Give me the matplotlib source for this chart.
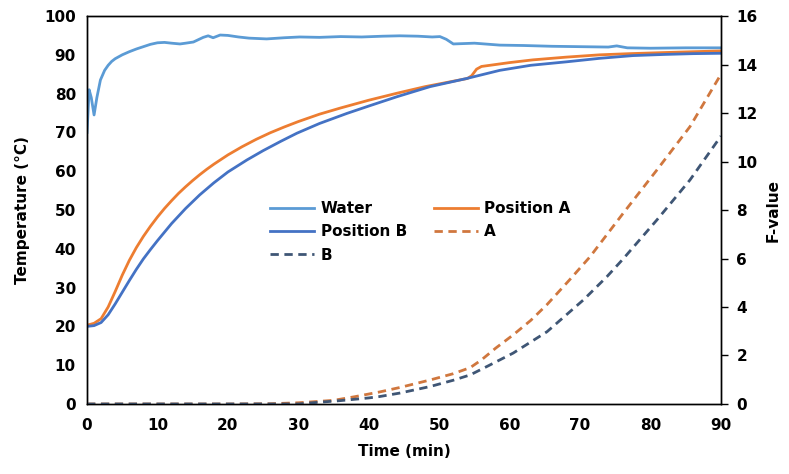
import matplotlib
matplotlib.use("Agg")
import matplotlib.pyplot as plt

# Water bath temperature (°C)
water_t = [0, 0.3, 0.6, 1.0, 1.4, 1.9, 2.5, 3.0, 3.5, 4.0, 5, 6, 7, 8, 9, 10, 11, 12, 13.2, 14, 15.1,
           16.5, 17.2, 17.9, 18.9, 20, 21.5, 23, 25.5, 28, 30.2, 33, 36, 39, 42, 44.4,
           47, 49, 50.1, 51, 52, 53.5, 55, 58.6, 62, 66, 70, 74, 75.2, 76.7, 80, 85, 90]
water_T = [70, 81, 79, 74.5, 79, 83.5, 86, 87.3, 88.3, 89.0, 90.0, 90.8, 91.5, 92.1, 92.7, 93.1, 93.2, 93.0, 92.8, 93.0, 93.3,
           94.5, 94.9, 94.4, 95.1, 95.0, 94.6, 94.3, 94.1, 94.4, 94.6, 94.5, 94.7, 94.6, 94.8, 94.9,
           94.8, 94.6, 94.7, 94.0, 92.8, 92.9, 93.0, 92.5, 92.4, 92.2, 92.1, 92.0, 92.3, 91.8, 91.7, 91.8, 91.8]

# Product core temperature at position A (°C)
posA_t = [0, 1, 2, 3, 4, 5, 6, 7, 8, 9, 10, 11, 12, 13, 14, 15, 16, 17, 18, 19, 20, 22, 24, 26, 28, 30,
          33, 36, 40, 44, 48, 52, 54, 54.6, 55.3, 56, 58, 60, 63.3, 68, 72.8, 77, 82.3, 86, 90]
posA_T = [20.3, 20.8, 22, 25, 29, 33.2, 37, 40.3, 43.2, 45.8, 48.2, 50.4, 52.4, 54.3, 56, 57.6, 59.1, 60.5, 61.8, 63, 64.2,
          66.3, 68.2, 69.9, 71.4, 72.8, 74.7, 76.3, 78.3, 80.1, 81.8, 83.2, 83.9, 84.6, 86.3, 87.0, 87.5, 88.0, 88.7,
          89.4, 90.0, 90.3, 90.6, 90.8, 91.0]

# Product core temperature at position B (°C)
posB_t = [0, 1, 2, 3, 4, 5, 6, 7, 8, 9, 10, 12, 14, 16, 18, 20, 22.7, 25, 27.5, 29.8, 33, 36.9, 40, 44,
          48.7, 53.9, 58.6, 63, 68.1, 72.8, 77.5, 82, 86, 90]
posB_T = [20.0, 20.2, 21, 23, 25.8, 28.8, 31.8, 34.7, 37.4, 39.8, 42.1, 46.5, 50.4, 53.9, 57.0, 59.8, 62.9, 65.3, 67.7,
          69.8, 72.3, 74.9, 76.8, 79.2, 81.8, 83.9, 86.0, 87.3, 88.2, 89.1, 89.8, 90.1, 90.3, 90.4]

# Accumulated F-value at position A
fA_t = [0, 10, 20, 26, 30, 35, 38, 41.6, 44.4, 48.7, 52, 54.4, 56, 58, 60.5, 63, 65.3, 68.6,
        71.4, 76.1, 80.9, 85.6, 90]
fA_v = [0, 0, 0, 0.01, 0.05, 0.15, 0.3, 0.5, 0.68, 0.99, 1.25, 1.5, 1.82, 2.3, 2.85, 3.45, 4.1,
        5.15, 6.07, 7.86, 9.65, 11.44, 13.6]

# Accumulated F-value at position B
fB_t = [0, 10, 20, 30, 32, 36, 40, 41.6, 44.4, 48.7, 52, 54.4, 57, 60.5, 65.3, 70.5, 73.8, 76.1,
        80.9, 85.6, 90]
fB_v = [0, 0, 0, 0, 0.05, 0.14, 0.25, 0.31, 0.45, 0.72, 0.98, 1.2, 1.58, 2.1, 2.98, 4.3, 5.25, 5.98,
        7.59, 9.24, 11.05]

x_ticks = list(range(0, 91, 10))
temp_ticks = list(range(0, 101, 10))
f_ticks = list(range(0, 17, 2))

c_water = "#5B9BD5"
c_A = "#ED7D31"
c_B = "#4472C4"
c_fA = "#D0773E"
c_fB = "#3F5675"

plt.rcParams["font.family"] = ["DejaVu Sans"]
plt.rcParams["font.weight"] = "bold"

fig = plt.figure(figsize=(7.89, 4.74), dpi=100)
ax = fig.add_axes([0.1103, 0.1477, 0.8035, 0.8185])
ax2 = ax.twinx()

l_w, = ax.plot(water_t, water_T, color=c_water, lw=2, label="Water")
l_a, = ax.plot(posA_t, posA_T, color=c_A, lw=2, label="Position A")
l_b, = ax.plot(posB_t, posB_T, color=c_B, lw=2, label="Position B")
d_a, = ax2.plot(fA_t, fA_v, color=c_fA, lw=2, ls=(0, (3, 2)), label="A")
d_b, = ax2.plot(fB_t, fB_v, color=c_fB, lw=2, ls=(0, (3, 2)), label="B")

ax.set_xlim(0, 90)
ax.set_ylim(0, 100)
ax2.set_ylim(0, 16)
ax.set_xticks(x_ticks)
ax.set_yticks(temp_ticks)
ax2.set_yticks(f_ticks)

ax.tick_params(axis="both", length=0, labelsize=11, pad=8)
ax.tick_params(axis="x", pad=10)
ax2.tick_params(axis="y", length=5, width=1, direction="out", labelsize=11, pad=6)

for a in (ax, ax2):
    for s in a.spines.values():
        s.set_linewidth(1.0)
        s.set_color("black")

ax.set_xlabel("Time (min)", fontsize=11, fontweight="bold", labelpad=8)
ax.set_ylabel("Temperature (°C)", fontsize=11, fontweight="bold", labelpad=10)
ax2.set_ylabel("F-value", fontsize=11, fontweight="bold", labelpad=6)

handles = [l_w, l_b, d_b, l_a, d_a]
ax2.legend(handles, [h.get_label() for h in handles], ncol=2, frameon=False,
           loc="upper left", bbox_to_anchor=(0.325, 0.605), bbox_transform=fig.transFigure,
           handlelength=2.9, handletextpad=0.4, columnspacing=1.75,
           labelspacing=0.55, prop={"weight": "bold", "size": 11})

fig.savefig("out.png", dpi=100)
